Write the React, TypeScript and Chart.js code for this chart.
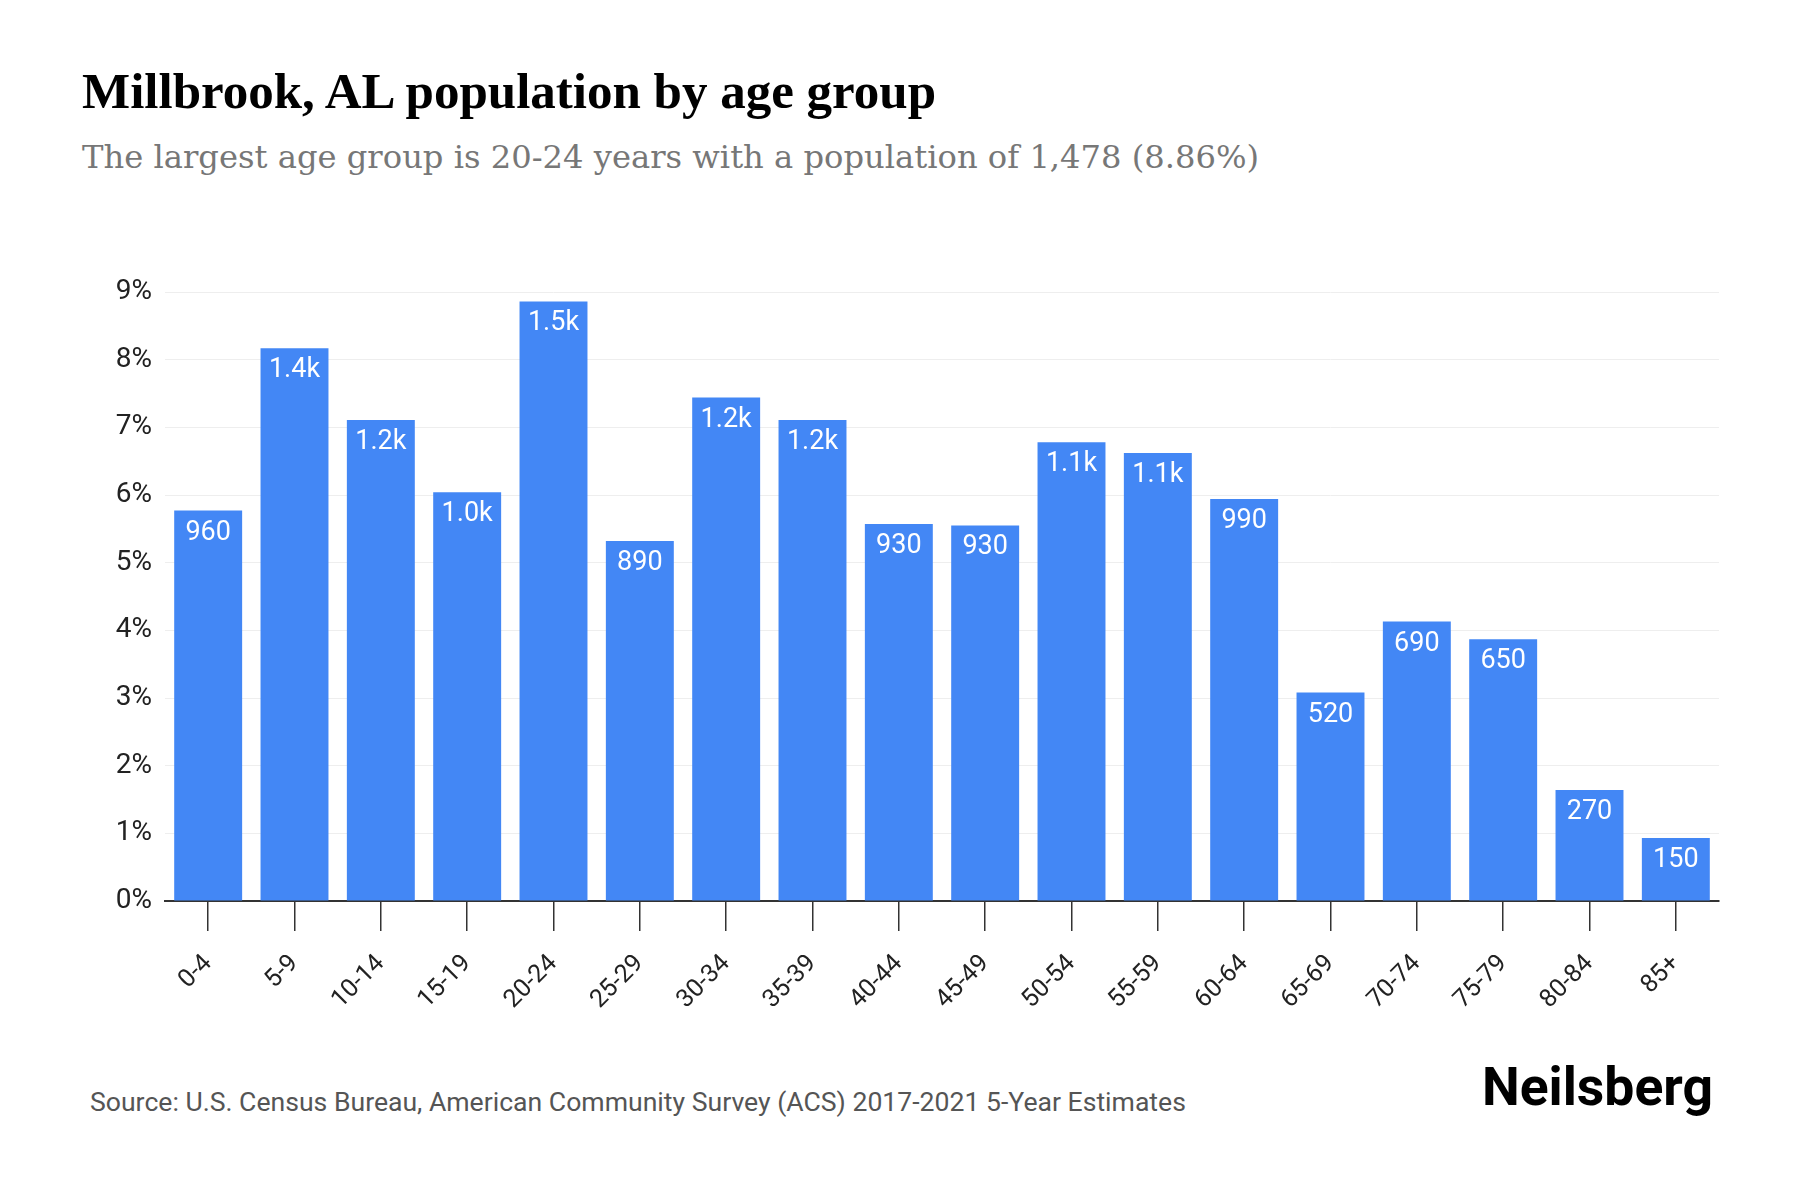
import React, { useEffect, useRef } from "react";
import { Chart, registerables } from "chart.js";

Chart.register(...registerables);

const categories = ["0-4", "5-9", "10-14", "15-19", "20-24", "25-29", "30-34", "35-39", "40-44", "45-49", "50-54", "55-59", "60-64", "65-69", "70-74", "75-79", "80-84", "85+"];
const percentages = [5.77, 8.17, 7.11, 6.04, 8.86, 5.32, 7.44, 7.11, 5.57, 5.55, 6.78, 6.62, 5.94, 3.08, 4.13, 3.87, 1.64, 0.93];
const populations = [960, 1363, 1186, 1008, 1478, 888, 1241, 1186, 929, 926, 1131, 1104, 991, 518, 689, 646, 274, 152];
const yTicks = [0, 1, 2, 3, 4, 5, 6, 7, 8, 9];

const BAR_COLOR = "#4387f5";

function formatPop(v: number): string {
  if (v >= 1000) return (v / 1000).toFixed(1) + "k";
  return String(Math.round(v / 10) * 10);
}

const barLabelPlugin = {
  id: "barLabels",
  afterDatasetsDraw(chart: any) {
    const ctx = chart.ctx;
    const meta = chart.getDatasetMeta(0);
    ctx.save();
    ctx.fillStyle = "#ffffff";
    ctx.font = "400 27px Roboto";
    ctx.textAlign = "center";
    ctx.textBaseline = "alphabetic";
    meta.data.forEach((bar: any, i: number) => {
      ctx.fillText(formatPop(populations[i]), bar.x, bar.y + 29);
    });
    ctx.restore();
  },
};

export default function App() {
  const canvasRef = useRef<HTMLCanvasElement | null>(null);

  useEffect(() => {
    document.body.style.margin = "0";
    if (!canvasRef.current) return;
    const chart = new Chart(canvasRef.current, {
      type: "bar",
      data: {
        labels: categories,
        datasets: [
          {
            data: percentages,
            backgroundColor: BAR_COLOR,
            borderWidth: 0,
            categoryPercentage: 1,
            barPercentage: 0.787,
          },
        ],
      },
      options: {
        animation: false,
        responsive: false,
        maintainAspectRatio: false,
        devicePixelRatio: 1,
        layout: { padding: { top: 52, right: 81, bottom: 0, left: 40 } },
        plugins: {
          legend: { display: false },
          tooltip: { enabled: false },
          title: { display: false },
        },
        scales: {
          x: {
            offset: true,
            grid: {
              offset: false,
              drawOnChartArea: false,
              drawTicks: true,
              tickLength: 30,
              color: "#333333",
              lineWidth: 1.5,
            },
            border: { display: true, color: "#333333", width: 2 },
            ticks: {
              maxRotation: 45,
              minRotation: 45,
              padding: 18,
              color: "#222222",
              font: { family: "Roboto", size: 25 },
            },
            afterFit: (s: any) => {
              s.height = 159;
            },
          },
          y: {
            min: 0,
            max: 9,
            afterBuildTicks: (s: any) => {
              s.ticks = yTicks.map((v) => ({ value: v }));
            },
            grid: { color: "#eeeeee", drawTicks: false, lineWidth: 1 },
            border: { display: false },
            ticks: {
              padding: 13,
              color: "#222222",
              font: { family: "Roboto", size: 28 },
              callback: (v: any) => v + "%",
            },
            afterFit: (s: any) => {
              s.width = 125;
            },
          },
        },
      },
      plugins: [barLabelPlugin],
    });
    return () => chart.destroy();
  }, []);

  return (
    <div style={{ position: "fixed", left: 0, top: 0, width: 1800, height: 1200, background: "#ffffff", overflow: "hidden" }}>
      <div
        style={{
          position: "absolute",
          left: 82,
          top: 66,
          fontFamily: "'Liberation Serif', serif",
          fontWeight: 700,
          fontSize: 51,
          lineHeight: "51px",
          color: "#000000",
          whiteSpace: "nowrap",
        }}
      >
        Millbrook, AL population by age group
      </div>
      <div
        style={{
          position: "absolute",
          left: 82,
          top: 141,
          fontFamily: "'DejaVu Serif', serif",
          fontWeight: 400,
          fontSize: 32.2,
          lineHeight: "32.2px",
          color: "#777777",
          whiteSpace: "nowrap",
        }}
      >
        The largest age group is 20-24 years with a population of 1,478 (8.86%)
      </div>
      <canvas
        ref={canvasRef}
        width={1800}
        height={820}
        style={{ position: "absolute", left: 0, top: 240, width: 1800, height: 820 }}
      />
      <div
        style={{
          position: "absolute",
          left: 90,
          top: 1089,
          fontFamily: "Roboto, sans-serif",
          fontWeight: 400,
          fontSize: 26.6,
          lineHeight: "26.6px",
          color: "#555555",
          whiteSpace: "nowrap",
        }}
      >
        Source: U.S. Census Bureau, American Community Survey (ACS) 2017-2021 5-Year Estimates
      </div>
      <div
        style={{
          position: "absolute",
          right: 87,
          top: 1060,
          fontFamily: "Roboto, sans-serif",
          fontWeight: 700,
          fontSize: 53.5,
          lineHeight: "53.5px",
          color: "#000000",
          whiteSpace: "nowrap",
        }}
      >
        Neilsberg
      </div>
    </div>
  );
}
